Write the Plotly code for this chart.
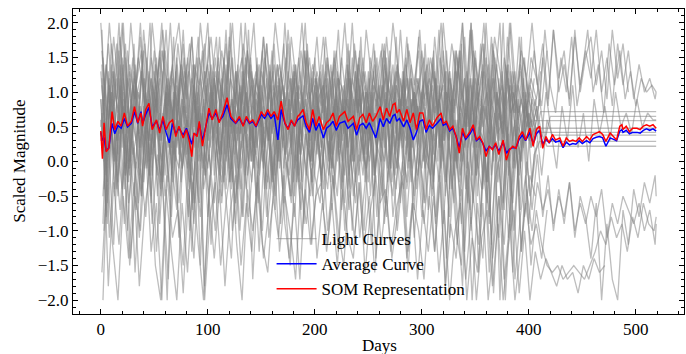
import plotly.graph_objects as go

# ---------------- data ----------------
# sampling days of the light curves (four interleaved sampling grids)
GRID_A = list(range(0, 516, 5)) + [519]
GRID_B = list(range(2, 518, 5)) + [519]
GRID_C = list(range(1, 517, 5)) + [519]
GRID_D = list(range(3, 519, 5)) + [519]

N = None
LC01 = [2.0,0.6,1.7,0.9,2.0, 0.7,1.5,0.4,1.9,1.0, 0.5,1.6,0.8,2.0,0.6, 1.4,0.9,1.8,0.5,1.3, 2.0,
        0.7,1.5,0.4,1.8,1.0, 0.6,2.0,0.9,1.3,0.5, 1.7,0.8,1.4,0.6,1.9, 1.0,0.5,1.6,0.9,1.2,
        0.6,1.8,1.0,0.5,1.5, 0.8,2.0,0.7,1.3,0.9, 1.7,0.5,1.4,1.0,0.6, 1.9,0.8,1.2,0.5,1.6,
        0.9,1.5,0.6,2.0,1.1, 0.7,1.6,0.5,1.9,1.0, 0.6,2.0,0.8,1.4,0.5, 1.8,1.0,0.7,1.5,0.9,
        1.6,0.8,1.9,1.1,0.7, 1.5,1.0,1.8,0.8,1.3, 1.9,1.0,1.4,0.7,1.7, 1.1,1.6,0.9,1.3,0.8, 1.2,1.0,1.1,1.0]
LC02 = [-2.0,0.3,-1.2,0.5,-0.9, 0.2,-1.6,-0.1,-0.8,0.4, -1.3,0.0,-2.0,0.3,-0.7, -1.5,0.1,-0.9,0.5,-1.8, -0.2,
        -1.0,0.3,-0.6,-1.4,0.2, -0.8,0.4,-1.7,-0.2,0.5, -1.1,-0.4,0.3,-0.9,-1.5, 0.1,-0.7,0.4,-1.2,-0.3,
        0.3,-1.0,-0.2,-1.3,0.4, -0.7,0.1,-1.1,-0.3,0.5, -1.4,-0.1,-0.8,0.3,-1.0, -0.2,-1.6,-0.4,0.2,-0.9,
        0.0,-1.3,-0.3,-1.8,0.1, -1.0,-1.5,-0.2,-2.0,-0.6, -1.4,0.0,-1.9,-0.5,-1.2, 0.1,-1.7,-0.8,-0.2,-1.5,
        -0.7,-1.2,-1.5,-1.6,-1.5, -1.7,-1.6,-1.5,-1.6,-1.7, -1.5,-1.3,-1.0,-1.2,-0.8, -1.1,-0.9,-1.3,-0.8,-1.1, -0.6,-0.9,-1.0,-0.8]
LC03 = [1.4,-0.2,1.1,0.1,0.9, -0.3,1.3,0.2,0.8,-0.1, 1.2,0.3,1.0,-0.2,1.5, 0.4,-0.1,1.1,0.2,0.9, 0.0,
        1.2,0.1,0.8,-0.3,1.3, 0.4,1.0,0.0,1.4,0.2, 0.7,-0.2,1.1,0.3,0.9, -0.1,1.3,0.5,0.0,1.0,
        0.2,1.1,-0.1,0.8,0.3, 1.4,0.0,0.9,0.4,1.2, -0.2,0.7,1.0,0.1,1.3, 0.3,0.8,-0.1,1.1,0.4,
        1.0,-0.2,0.9,0.3,1.3, 0.0,0.7,-0.4,1.1,0.2, 0.8,-0.3,1.2,0.4,0.6, -0.2,1.0,0.1,0.8,0.5,
        0.3,0.72,0.72,0.72,0.72, 0.72,0.72,0.72,0.72,0.72, 0.72,0.72,0.72,0.72,0.72, 0.72,0.72,0.72,0.72,0.72, 0.72,0.72,0.72,0.72]
LC04 = [-1.0,0.9,-0.4,1.2,-0.2, 0.8,-0.7,0.6,-0.1,1.0, -0.5,0.7,-0.3,0.9,-1.1, 0.5,-0.4,0.8,-1.5,0.6, -0.2,
        0.7,-0.5,0.9,-0.3,0.5, -0.8,0.8,-0.1,1.1,-0.4, 0.6,-0.7,0.9,0.0,-0.6, 1.0,-0.3,0.7,-0.5,0.4,
        -0.4,0.8,-0.2,1.0,-0.6, 0.5,-0.3,0.9,-0.1,0.6, -0.8,0.7,0.0,-0.5,0.9, -0.2,0.6,-0.7,0.8,-0.1,
        0.6,-0.8,0.4,-0.3,0.9, -1.2,0.3,-0.6,0.7,-1.6, 0.2,-0.9,0.5,-2.0,0.1, -1.0,0.4,-1.3,0.0,-0.7,
        0.1,-0.8,-0.2,-1.0,-0.4, -0.9,-0.3,-1.1,-0.5,-0.8, -1.4,-0.6,-2.0,-0.9,-1.7, -2.0,-0.7,-1.2,-0.4,-0.8, -0.3,-0.6,-0.2,-0.5]
LC05 = [0.3,1.4,0.5,1.2,0.2, 1.6,0.6,1.0,0.1,1.3, 0.7,1.5,0.4,1.1,0.0, 1.4,0.5,1.2,0.8,1.6, 0.3,
        1.3,0.5,1.5,0.2,1.0, 0.6,1.4,0.3,1.2,0.8, 1.7,0.4,1.1,0.2,1.3, 0.7,1.5,0.5,1.0,0.3,
        1.2,0.4,1.4,0.6,1.1, 0.2,1.5,0.7,1.0,0.3, 1.3,0.5,1.6,0.8,0.2, 1.2,0.6,1.4,0.4,1.0,
        0.5,1.3,0.7,1.6,0.3, 1.1,0.6,1.8,0.4,1.2, 0.8,1.5,0.2,1.0,0.6, 1.4,0.3,1.1,0.7,0.9,
        0.59,0.59,0.59,0.59,0.59, 0.59,0.59,0.59,0.59,0.59, 0.59,0.59,0.59,0.59,0.59, 0.59,0.59,0.59,0.59,0.59, 0.59,0.59,0.59,0.59]
LC06 = [0.5,-1.8,-0.3,-1.2,0.0, -1.5,-0.5,-1.0,0.2,-1.3, -0.6,-2.0,-0.2,-1.1,-0.7, -1.9,-0.4,-1.4,0.1,-2.0, -0.8,
        -0.3,-1.5,-0.6,0.0,-1.2, -2.0,-0.4,-1.0,-0.2,-1.4, -0.7,0.1,-1.3,-0.5,-1.0, -1.7,-0.3,-0.9,-0.1,-1.4,
        -0.6,-1.2,-0.2,-1.0,-1.5, -0.4,-1.1,-0.3,-1.6,-0.7, -0.2,-1.2,-0.5,-1.4,-0.8, 0.0,-1.3,-0.6,-1.0,-1.7,
        -0.5,-1.3,-0.2,-1.8,-0.9, -1.4,-0.4,-2.0,-1.1,-1.6, -0.6,-2.0,-1.2,-0.5,-1.7, -0.9,-2.0,-1.3,-0.6,-1.2,
        -0.9,-1.4,-0.7,N,N, N,N,N,N,N, N,N,N,N,N, N,N,N,N,N, N,N,N,N]
LC07 = [1.9,-0.3,0.8,-0.5,1.2, 0.0,1.7,-0.2,0.9,2.0, 0.1,-0.4,1.0,0.2,1.4, -0.1,0.6,-0.6,1.1,0.3, 1.8,
        -0.2,0.9,0.1,2.0,0.3, -0.4,1.0,0.0,1.5,0.2, -0.3,0.8,1.2,-0.1,0.9, -0.5,0.6,1.6,0.0,1.0,
        -0.3,0.7,1.3,0.0,0.9, -0.4,0.6,1.5,0.1,1.0, -0.2,0.8,1.2,-0.1,1.8, 0.3,-0.3,0.9,0.2,1.1,
        -0.1,1.6,0.2,1.0,-0.4, 1.3,0.0,0.8,2.0,-0.2, 0.9,-0.3,1.4,0.3,2.0, 0.0,1.1,-0.5,1.5,0.4,
        0.9,0.2,1.0,0.4,-0.1, 0.8,0.3,1.1,0.2,0.7, 0.0,0.9,0.4,0.8,0.3, 1.0,0.5,0.7,0.4,0.9, 0.5,0.7,0.6,0.6]
LC08 = [0.8,2.0,1.0,1.8,0.7, 2.0,1.1,1.6,0.6,2.0, 1.2,1.9,0.8,1.5,2.0, 1.0,1.7,0.7,2.0,1.2, 1.8,
        0.9,1.6,1.1,2.0,0.8, 1.7,1.2,2.0,0.7,1.5, 1.0,2.0,1.3,0.8,1.8, 1.1,2.0,0.9,1.4,1.0,
        1.8,0.8,1.5,1.1,2.0, 0.9,1.6,0.7,1.9,1.2, 0.8,1.7,1.0,2.0,1.3, 0.9,1.6,1.1,1.9,0.8,
        1.5,1.0,2.0,0.9,1.7, 1.2,2.0,0.8,1.6,1.1, 2.0,0.9,1.8,1.3,0.8, 2.0,1.0,1.6,1.2,2.0,
        1.1,1.7,0.9,1.9,1.2, 1.6,0.8,1.9,1.0,1.5, 1.8,1.1,1.6,0.9,1.9, 1.2,1.7,1.0,N,N, N,N,N,N]
LC09 = [0.9,-0.8,0.5,-0.4,0.7, -1.0,0.3,-0.6,0.8,-0.2, 0.6,-0.9,0.4,-0.5,1.0, -0.3,0.5,-1.3,0.2,0.7, -0.8,
        0.5,-0.6,0.8,-0.3,0.4, -1.0,0.3,0.9,-0.5,0.6, -0.8,0.2,0.7,-0.4,1.0, -0.3,0.5,-0.9,0.6,-0.2,
        -0.6,0.6,-0.3,0.9,-0.7, 0.4,-1.0,0.5,-0.2,0.8, -0.5,0.6,-0.9,0.3,0.7, -0.6,0.9,-0.3,0.4,-0.8,
        0.6,-0.4,0.8,-0.9,0.3, -0.6,0.7,-1.3,0.2,0.5, -0.8,0.6,-1.2,0.3,-0.7, 0.5,-1.6,-0.1,0.4,-0.9,
        0.1,0.29,0.29,0.29,0.29, 0.29,0.29,0.29,0.29,0.29, 0.29,0.29,0.29,0.29,0.29, 0.29,0.29,0.29,0.29,0.29, 0.29,0.29,0.29,0.29]
LC10 = [-0.9,1.3,0.0,1.6,0.3, -0.2,1.4,0.2,1.0,-0.5, 1.5,0.3,1.2,-0.1,0.9, 1.7,0.1,1.1,-0.6,1.3, 0.4,
        1.1,0.0,1.4,-0.4,1.2, 0.2,1.6,0.4,-0.1,1.3, 0.3,1.7,0.0,1.0,0.2, 1.4,0.5,-0.2,1.2,0.1,
        1.4,0.3,-0.1,1.2,0.4, 1.6,0.0,1.1,-0.3,1.3, 0.3,0.0,1.5,0.4,-0.1, 1.3,0.2,1.0,1.6,0.3,
        0.0,1.3,0.4,-0.3,1.2, 0.1,1.7,-0.1,1.0,-0.5, 0.9,1.4,0.0,1.2,-0.7, 0.8,1.3,-0.1,1.0,0.3,
        0.8,0.4,0.22,0.22,0.22, 0.22,0.22,0.22,0.22,0.22, 0.22,0.22,0.22,0.22,0.22, 0.22,0.22,0.22,0.22,0.22, 0.22,0.22,0.22,0.22]
LC11 = [-1.6,-0.2,-1.2,-2.0,-0.5, -1.4,-0.3,-1.8,-0.7,-0.1, -1.5,-2.0,-0.4,-1.3,-2.0, -0.6,-1.6,-0.3,-1.2,-2.0, -0.5,
        -1.4,-0.4,-1.8,-0.7,-0.2, -1.5,-0.6,-1.3,-0.3,-1.2, -1.6,-0.5,-1.1,-0.2,-1.4, -0.6,-1.7,-0.4,-1.2,-0.5,
        -0.3,-1.3,-0.6,-1.5,-0.4, -1.1,-1.4,-0.3,-1.2,-0.5, -1.6,-0.6,-0.4,-1.3,-0.7, -0.3,-1.4,-0.6,-1.7,-0.7,
        -1.3,-0.5,-1.6,-0.7,-2.0, -1.0,-0.6,-1.7,-0.8,-2.0, -1.1,-0.7,-1.8,-0.9,-2.0, -1.2,-0.7,-1.9,-1.0,-2.0,
        -1.3,-1.7,-1.4,-1.6,-1.8, -1.5,-1.7,-1.6,-1.9,-1.5, -1.7,-1.4,-1.6,-1.5,N, N,N,N,N,N, N,N,N,N]
LC12 = [0.0,1.2,-0.5,0.9,1.7, 0.0,1.1,-0.4,1.5,0.4, -0.2,1.3,0.2,1.8,0.1, 1.0,-0.3,1.4,0.3,-0.2, 1.1,
        1.8,0.1,1.1,-0.1,1.4, 0.3,1.9,0.0,1.0,0.2, 1.3,-0.2,0.9,1.5,0.1, 1.1,0.3,1.7,0.0,0.8,
        1.1,0.0,1.6,0.3,-0.2, 1.2,0.4,1.8,0.1,1.0, 0.2,1.5,-0.1,1.1,0.3, 1.3,0.0,1.0,0.2,1.7,
        0.3,1.2,-0.1,1.6,0.4, 0.0,2.0,0.2,1.1,-0.1, 1.7,0.1,1.0,2.0,0.0, 1.3,0.3,1.8,-0.2,0.9,
        0.6,1.5,0.8,1.9,1.0, 1.4,0.9,1.8,1.1,1.6, 1.2,1.9,1.0,1.5,0.8, 1.7,1.1,1.6,0.9,1.4, 1.0,1.2,0.9,1.0]
LC13 = [1.3,0.2,1.0,0.0,1.5, 0.4,1.1,-0.1,1.2,0.6, 1.6,0.3,0.9,0.1,1.3, 0.5,1.4,0.0,1.0,0.4, 1.2,
        0.3,1.3,0.6,1.5,0.1, 1.0,0.4,1.4,0.2,1.1, 0.5,1.6,0.0,0.9,0.6, 1.3,0.2,1.1,0.4,1.5,
        0.4,1.2,0.1,1.0,0.6, 1.4,0.3,0.9,0.0,1.3, 0.5,1.1,0.2,1.6,0.4, 0.9,0.1,1.2,0.6,1.0,
        1.4,0.3,1.1,0.0,1.0, 0.5,1.5,0.2,1.2,0.4, 1.7,0.1,0.9,0.5,1.3, 0.0,1.0,0.6,1.2,0.3,
        0.48,0.48,0.48,0.48,0.48, 0.48,0.48,0.48,0.48,0.48, 0.48,0.48,0.48,0.48,0.48, 0.48,0.48,0.48,0.48,0.48, 0.48,0.48,0.48,0.48]
LC14 = [-0.5,1.0,0.1,0.7,-0.4, 1.2,-0.1,0.8,0.3,-0.6, 0.9,0.0,1.1,-0.3,0.6, 0.2,-0.8,0.9,0.4,-0.2, 1.0,
        0.0,0.9,-0.4,0.7,0.2, 1.1,-0.2,0.5,-0.6,0.8, 0.3,1.0,-0.1,0.6,-0.5, 0.9,0.1,0.7,-0.3,1.2,
        0.1,-0.4,0.8,0.3,1.1, -0.2,0.6,0.0,1.0,-0.5, 0.7,0.2,0.9,-0.3,0.5, 1.1,-0.1,0.6,0.3,-0.6,
        0.8,0.0,1.0,-0.5,0.6, 0.2,-0.9,0.7,0.3,1.2, -0.4,0.5,0.1,-1.1,0.8, 0.0,0.6,-0.7,0.9,0.2,
        0.5,-0.2,0.6,0.38,0.38, 0.38,0.38,0.38,0.38,0.38, 0.38,0.38,0.38,0.38,0.38, 0.38,0.38,0.38,0.38,0.38, 0.38,0.38,0.38,0.38]
LC15 = [1.6,0.4,1.3,0.7,2.0, 0.5,1.2,0.9,1.7,0.3, 1.4,0.8,1.9,0.6,1.1, 0.2,1.5,0.9,1.8,0.4, 1.3,
        0.6,1.8,0.5,1.2,0.9, 2.0,0.4,1.3,0.7,1.6, 0.3,1.1,0.8,1.7,0.5, 1.3,0.9,2.0,0.6,1.2,
        0.8,1.5,0.3,1.2,0.7, 1.7,0.5,1.4,0.9,0.4, 1.6,0.6,1.3,0.2,1.1, 0.8,1.8,0.5,1.2,0.7,
        1.5,0.6,1.9,0.3,1.2, 0.8,1.6,0.4,2.0,0.7, 1.3,0.5,1.7,0.9,0.3, 1.4,0.7,1.8,0.5,1.1,
        0.8,1.3,N,N,N, N,N,N,N,N, N,N,N,N,N, N,N,N,N,N, N,N,N,N]
LC16 = [0.6,-1.1,0.2,-0.7,0.4, -1.4,0.0,-0.5,0.7,-0.9, 0.1,-0.4,-1.7,0.3,-0.6, 0.5,-1.0,0.0,-0.8,0.4, -1.2,
        0.2,-0.6,0.5,-1.0,-0.2, 0.4,-0.8,0.1,-1.3,0.3, -0.4,0.6,-0.9,0.0,-0.5, 0.4,-1.1,0.2,-0.3,0.5,
        -0.7,0.3,-0.4,0.5,-1.0, 0.1,-0.6,0.4,-0.2,-1.2, 0.2,-0.5,0.6,-0.8,0.0, -0.4,0.5,-1.1,0.1,-0.6,
        0.3,-0.9,0.1,-1.4,0.4, -0.7,-1.8,0.0,-0.5,-1.2, 0.2,-1.6,-0.3,0.1,-2.0, -0.6,0.3,-1.3,-0.4,-1.0,
        -0.3,-0.7,-0.4,-0.9,-0.5, -0.8,-0.3,-1.0,-0.6,-0.9, -0.5,-0.8,-0.4,-1.1,-0.6, -0.9,-0.5,-0.7,-0.9,-0.6, -1.0,-0.7,-1.2,-0.9]
LC17 = [0.9,-0.1,1.4,0.3,0.8, -0.3,1.1,0.5,1.6,0.0, 0.7,1.2,-0.2,0.9,0.4, 1.3,0.1,0.7,1.5,-0.1, 0.6,
        1.0,0.2,1.3,-0.1,0.8, 0.4,1.5,0.0,0.9,0.5, 1.2,-0.3,0.7,1.1,0.2, 1.4,-0.2,0.8,0.3,1.1,
        0.5,1.3,-0.1,0.9,0.4, 1.2,0.0,1.4,0.3,0.8, -0.2,1.0,0.5,1.3,0.1, 0.7,1.5,0.2,0.9,-0.1,
        0.7,1.1,0.0,1.4,0.3, 0.9,-0.3,1.2,0.5,1.6, 0.1,0.8,-0.2,1.0,0.4, 1.3,-0.1,0.9,0.2,0.7,
        0.4,0.9,0.3,0.65,0.65, 0.65,0.65,0.65,0.65,0.65, 0.65,0.65,0.65,0.65,0.65, 0.65,0.65,0.65,0.65,0.65, 0.65,0.65,0.65,0.65]
LC18 = [0.4,1.7,0.8,2.0,0.5, 1.3,0.9,1.8,0.3,1.5, 1.0,2.0,0.6,1.2,0.8, 1.9,0.5,1.4,1.1,1.7, 0.6,
        1.5,0.7,1.9,0.4,1.3, 0.8,1.6,1.0,0.5,1.8, 0.9,1.4,0.6,2.0,0.8, 1.2,0.4,1.5,1.0,1.8,
        0.7,1.4,0.9,1.9,0.5, 1.2,0.8,1.6,0.4,1.5, 1.0,0.6,1.8,0.9,1.3, 0.5,1.7,0.8,1.1,1.5,
        0.6,1.8,0.9,1.3,0.4, 1.6,1.0,0.7,1.9,0.8, 1.4,0.5,1.6,1.1,0.7, 2.0,0.9,1.3,0.6,1.5,
        1.2,0.8,1.6,N,N, N,N,N,N,N, N,N,N,N,N, N,N,N,N,N, N,N,N,N]
LC19 = [1.2,-0.6,0.7,-0.2,1.0, 0.4,-0.5,0.8,-0.1,0.5, 1.1,-0.3,0.6,0.0,-0.7, 0.9,0.2,-0.4,0.7,0.1, -0.5,
        0.6,-0.2,0.9,0.1,-0.6, 0.7,0.3,-0.3,1.0,0.0, 0.5,-0.5,0.8,0.2,-0.2, 0.9,-0.4,0.4,0.0,0.7,
        -0.3,0.6,0.1,-0.5,0.8, 0.2,0.9,-0.2,0.5,0.0, 0.7,-0.6,0.4,0.9,-0.1, 0.6,-0.4,0.3,0.8,0.0,
        0.5,-0.3,0.9,0.1,-0.8, 0.6,-0.2,0.4,-1.0,0.7, 0.0,-0.6,0.8,-0.3,0.3, -1.1,0.5,-0.2,0.6,-0.5,
        0.2,N,N,N,N, N,N,N,N,N, N,N,N,N,N, N,N,N,N,N, N,N,N,N]
LC20 = [0.2,1.1,0.5,1.4,-0.1, 0.9,0.3,1.3,0.6,-0.2, 1.0,0.4,1.2,0.1,0.8, 1.5,0.3,0.9,0.0,1.1, 0.7,
        0.2,1.2,0.5,0.9,-0.1, 1.3,0.6,0.2,1.0,0.4, 1.4,0.1,0.8,0.5,1.2, 0.0,0.9,0.6,1.3,0.3,
        0.9,0.1,1.2,0.5,0.8, 0.0,1.3,0.4,1.0,0.6, 0.2,1.1,0.5,1.4,0.3, 0.8,0.0,1.0,0.6,1.2,
        0.4,1.0,0.1,1.3,0.6, -0.1,0.9,0.5,1.2,0.2, 0.8,0.4,1.5,0.0,0.7, 1.1,0.3,0.9,0.5,0.6,
        0.42,0.42,0.42,0.42,0.42, 0.42,0.42,0.42,0.42,0.42, 0.42,0.42,0.42,0.42,0.42, 0.42,0.42,0.42,0.42,0.42, 0.42,0.42,0.42,0.42]
LC21 = [1.1,0.0,0.9,0.3,1.4, -0.1,0.8,0.4,1.2,0.1, 1.0,-0.2,0.7,1.3,0.2, 0.9,0.5,1.4,0.0,0.8, 0.3,
        1.2,0.1,0.9,0.5,1.3, -0.1,0.7,1.1,0.2,1.0, 0.4,1.3,0.0,0.8,0.5, 1.2,0.1,0.9,0.3,1.1,
        0.2,1.0,0.5,1.3,0.0, 0.9,0.4,1.2,0.1,0.8, 1.4,0.3,0.9,-0.1,1.1, 0.5,1.2,0.2,0.8,0.4,
        1.1,0.1,0.9,0.4,1.3, 0.0,0.8,0.5,1.2,-0.2, 0.7,1.0,0.2,0.9,0.4, 1.2,0.0,0.8,0.3,1.0,
        0.5,N,N,N,N, N,N,N,N,N, N,N,N,N,N, N,N,N,N,N, N,N,N,N]
LC22 = [-0.4,0.8,0.0,1.1,-0.2, 0.7,0.3,-0.5,0.9,0.1, 0.6,-0.3,1.0,0.2,-0.1, 0.8,0.4,-0.6,0.7,0.0, 1.1,
        0.2,-0.3,0.9,0.4,-0.4, 0.8,0.0,1.1,-0.2,0.6, 0.3,-0.5,0.9,0.1,0.7, -0.3,1.0,0.2,-0.1,0.8,
        0.4,-0.2,0.9,0.1,0.6, -0.4,1.0,0.3,-0.1,0.8, 0.2,1.1,-0.3,0.5,0.0, 0.9,0.3,-0.5,0.7,0.1,
        -0.2,0.8,0.2,1.0,-0.4, 0.6,0.0,0.9,-0.6,0.5, 0.3,-0.8,0.7,0.1,1.0, -0.5,0.4,0.0,0.8,-0.3,
        0.3,N,N,N,N, N,N,N,N,N, N,N,N,N,N, N,N,N,N,N, N,N,N,N]
LC23 = [0.5,1.4,0.8,1.7,0.4, 1.2,0.7,1.5,1.0,0.3, 1.3,0.6,1.6,0.9,0.4, 1.2,0.7,1.8,0.5,1.0, 1.4,
        0.6,1.2,0.9,1.6,0.3, 1.1,0.7,1.5,0.5,1.3, 0.9,0.4,1.4,0.7,1.7, 0.5,1.1,0.8,1.5,0.6,
        1.3,0.5,1.0,1.6,0.7, 0.3,1.2,0.8,1.5,0.4, 1.1,0.9,1.7,0.6,1.0, 0.4,1.4,0.7,1.2,0.9,
        0.5,1.4,0.8,1.1,0.3, 1.6,0.7,1.2,0.4,1.5, 0.9,0.6,1.8,0.8,1.1, 0.3,1.3,0.7,1.0,0.5,
        1.2,N,N,N,N, N,N,N,N,N, N,N,N,N,N, N,N,N,N,N, N,N,N,N]
LC24 = [0.9,0.1,1.3,0.4,0.7, -0.1,1.1,0.6,0.2,1.2, 0.5,0.0,0.9,1.4,0.3, 0.8,0.1,1.0,0.5,1.3, 0.2,
        0.7,1.1,0.0,0.9,0.4, 1.3,0.2,0.8,0.6,-0.1, 1.0,0.5,1.2,0.1,0.7, 1.4,0.3,0.9,0.0,0.8,
        0.6,1.2,0.1,0.8,0.4, 1.3,0.0,0.7,1.1,0.3, 0.9,-0.1,1.0,0.5,1.4, 0.2,0.8,0.4,1.2,0.0,
        0.9,0.3,1.1,0.6,0.0, 1.3,0.4,0.8,-0.2,1.0, 0.5,1.2,0.1,0.7,0.3, 1.1,-0.1,0.6,0.9,0.2,
        0.6,N,N,N,N, N,N,N,N,N, N,N,N,N,N, N,N,N,N,N, N,N,N,N]
LC25 = [0.7,-0.9,0.4,-0.3,0.8, -0.6,0.2,-1.1,0.5,-0.2, 0.9,-0.5,0.3,-0.8,0.6, -0.1,0.4,-0.7,0.8,-0.4, 0.1,
        -0.6,0.5,-0.2,0.8,-0.9, 0.3,-0.4,0.6,-0.1,-1.0, 0.4,-0.3,0.7,-0.6,0.2, -0.8,0.5,0.0,-0.5,0.6,
        -0.2,0.7,-0.7,0.3,-0.3, 0.8,-0.5,0.1,-1.0,0.5, -0.1,0.6,-0.6,0.2,-0.4, 0.7,-0.8,0.3,-0.2,0.5,
        -0.7,0.4,-0.3,0.6,-1.1, 0.2,-0.5,0.7,-0.9,0.1, -0.4,0.5,-1.4,0.0,-0.6, 0.4,-1.0,0.2,-0.8,-0.2,
        -0.5,N,N,N,N, N,N,N,N,N, N,N,N,N,N, N,N,N,N,N, N,N,N,N]
LC26 = [1.2,0.3,1.0,0.6,1.5, 0.2,0.9,1.3,0.4,1.1, 0.7,1.6,0.3,1.0,0.5, 1.3,0.8,0.2,1.2,0.6, 1.4,
        0.4,1.0,0.7,1.5,0.3, 1.2,0.6,0.9,1.4,0.2, 1.1,0.5,1.3,0.8,0.3, 1.0,0.7,1.6,0.4,0.9,
        1.1,0.5,1.4,0.2,0.9, 0.7,1.3,0.4,1.0,0.6, 1.5,0.3,1.1,0.8,0.2, 1.2,0.6,1.0,0.4,1.3,
        0.6,1.2,0.3,1.0,0.8, 1.5,0.4,1.1,0.2,0.9, 1.3,0.6,1.0,0.3,1.4, 0.7,0.9,0.2,1.2,0.5,
        0.8,N,N,N,N, N,N,N,N,N, N,N,N,N,N, N,N,N,N,N, N,N,N,N]
LC27 = [0.6,-0.2,1.0,0.3,-0.4, 0.8,0.1,0.5,-0.3,0.9, 0.2,0.7,-0.5,0.4,1.0, 0.0,0.6,-0.2,0.8,0.3, -0.1,
        0.9,0.2,-0.3,0.7,0.4, 1.0,-0.2,0.5,0.1,0.8, -0.4,0.6,0.3,1.1,0.0, 0.5,-0.3,0.8,0.2,0.6,
        -0.1,0.8,0.3,0.5,-0.4, 0.9,0.1,0.6,0.2,-0.3, 1.0,0.4,0.0,0.7,-0.2, 0.6,0.3,0.9,-0.4,0.5,
        0.2,-0.5,0.7,0.3,0.9, -0.2,0.5,0.1,-0.7,0.8, 0.4,-0.3,0.6,0.0,1.0, 0.2,-0.6,0.5,0.3,0.7,
        0.2,N,N,N,N, N,N,N,N,N, N,N,N,N,N, N,N,N,N,N, N,N,N,N]
LC28 = [1.5,0.6,1.8,1.0,0.7, 1.4,0.9,2.0,0.5,1.2, 0.8,1.6,1.1,0.6,1.7, 0.9,1.3,0.5,1.5,1.0, 0.7,
        1.3,0.8,1.7,0.5,1.1, 1.5,0.7,1.2,0.9,1.8, 0.6,1.0,1.4,0.8,1.2, 0.5,1.6,1.0,0.7,1.3,
        0.9,1.5,0.6,1.2,1.0, 0.5,1.7,0.8,1.3,0.6, 1.1,1.6,0.7,1.0,1.4, 0.8,1.2,0.5,1.8,0.9,
        1.2,0.7,1.5,1.0,0.6, 1.6,0.9,1.3,0.5,1.1, 1.7,0.8,1.2,0.6,1.5, 1.0,0.7,1.4,0.9,1.2,
        0.9,N,N,N,N, N,N,N,N,N, N,N,N,N,N, N,N,N,N,N, N,N,N,N]

LIGHT_CURVES = [
    (GRID_A, LC01), (GRID_B, LC02), (GRID_C, LC03), (GRID_D, LC04), (GRID_A, LC05),
    (GRID_B, LC06), (GRID_C, LC07), (GRID_D, LC08), (GRID_A, LC09), (GRID_B, LC10),
    (GRID_C, LC11), (GRID_D, LC12), (GRID_A, LC13), (GRID_B, LC14), (GRID_C, LC15),
    (GRID_D, LC16), (GRID_A, LC17), (GRID_B, LC18), (GRID_C, LC19), (GRID_D, LC20),
    (GRID_C, LC21), (GRID_D, LC22), (GRID_A, LC23), (GRID_B, LC24), (GRID_C, LC25),
    (GRID_D, LC26), (GRID_A, LC27), (GRID_B, LC28),
]

SOM_DAYS = [0, 1.5, 3, 5, 7.5, 10.5, 13, 16, 19, 22, 25, 28.5, 31.5, 34.5, 37.5, 39, 42, 45, 48, 52,
            55, 58, 61, 64, 67, 70, 73, 77, 80, 83, 85, 87, 90, 92, 95, 98, 101, 104, 107.5, 110.5,
            114, 118, 121.5, 126, 129.5, 133, 136, 139, 142, 145, 150, 153, 156, 159, 162, 165.5, 168.5, 172, 175, 178,
            181, 184, 186, 189, 192, 195, 198, 201, 204, 208, 211, 214, 217, 220, 223, 228, 231, 236, 239, 242,
            245, 248, 251, 254, 257, 261, 264, 267, 270, 273, 275, 276.5, 279, 283, 286, 289, 292, 295, 298, 301,
            304, 307, 310, 314, 318, 320, 323, 326, 329, 332, 335, 338, 341, 345, 348, 351, 354, 357, 360, 363,
            366, 369, 372, 376, 379, 382, 385, 388, 391, 394, 397, 401, 404, 407, 410, 413, 416, 419, 422, 425,
            429, 432, 435, 438, 441, 444, 447, 450, 454, 457, 460, 463, 466, 469, 472, 476, 479, 482, 485, 487,
            488, 491, 494, 497, 501, 504, 507, 510, 513, 516, 519]
SOM_VALUES = [0.44, 0.04, 0.56, 0.14, 0.19, 0.72, 0.46, 0.58, 0.51, 0.70, 0.51, 0.58, 0.79, 0.56, 0.70, 0.51, 0.75, 0.84, 0.46, 0.60,
              0.41, 0.65, 0.46, 0.56, 0.60, 0.36, 0.51, 0.34, 0.46, 0.27, 0.07, 0.41, 0.36, 0.58, 0.22, 0.51, 0.77, 0.60, 0.75, 0.56,
              0.70, 0.92, 0.65, 0.56, 0.65, 0.51, 0.65, 0.56, 0.60, 0.51, 0.72, 0.65, 0.75, 0.65, 0.72, 0.60, 0.87, 0.56, 0.46, 0.60,
              0.51, 0.65, 0.68, 0.75, 0.56, 0.46, 0.75, 0.51, 0.65, 0.46, 0.56, 0.60, 0.70, 0.51, 0.65, 0.72, 0.58, 0.65, 0.46, 0.63,
              0.68, 0.56, 0.70, 0.58, 0.65, 0.79, 0.60, 0.77, 0.65, 0.82, 0.84, 0.70, 0.75, 0.58, 0.75, 0.56, 0.70, 0.46, 0.70, 0.70,
              0.46, 0.60, 0.51, 0.63, 0.70, 0.55, 0.58, 0.46, 0.51, 0.36, 0.12, 0.48, 0.34, 0.43, 0.53, 0.31, 0.36, 0.27, 0.07, 0.22,
              0.17, 0.27, 0.10, 0.31, 0.02, 0.17, 0.22, 0.19, 0.36, 0.43, 0.31, 0.48, 0.22, 0.46, 0.51, 0.19, 0.36, 0.27, 0.39, 0.31,
              0.34, 0.22, 0.34, 0.29, 0.31, 0.29, 0.34, 0.29, 0.36, 0.31, 0.39, 0.41, 0.43, 0.39, 0.29, 0.41, 0.36, 0.31, 0.51, 0.53,
              0.46, 0.51, 0.43, 0.48, 0.48, 0.46, 0.51, 0.53, 0.51, 0.53, 0.48]
AVG_VALUES = [0.42, 0.30, 0.35, 0.15, 0.20, 0.55, 0.40, 0.52, 0.48, 0.62, 0.50, 0.55, 0.72, 0.55, 0.72, 0.55, 0.68, 0.78, 0.50, 0.58,
              0.45, 0.60, 0.42, 0.27, 0.55, 0.40, 0.48, 0.38, 0.48, 0.33, 0.25, 0.40, 0.38, 0.55, 0.30, 0.50, 0.70, 0.62, 0.70, 0.58,
              0.65, 0.82, 0.62, 0.55, 0.62, 0.52, 0.62, 0.55, 0.58, 0.50, 0.68, 0.62, 0.70, 0.62, 0.68, 0.31, 0.75, 0.55, 0.48, 0.58,
              0.52, 0.60, 0.62, 0.66, 0.50, 0.42, 0.62, 0.45, 0.55, 0.34, 0.48, 0.52, 0.58, 0.45, 0.55, 0.58, 0.48, 0.55, 0.38, 0.52,
              0.55, 0.48, 0.56, 0.45, 0.34, 0.62, 0.50, 0.62, 0.55, 0.66, 0.68, 0.58, 0.62, 0.50, 0.60, 0.48, 0.31, 0.42, 0.58, 0.60,
              0.42, 0.52, 0.48, 0.55, 0.62, 0.52, 0.55, 0.44, 0.48, 0.36, 0.20, 0.42, 0.32, 0.40, 0.48, 0.30, 0.34, 0.26, 0.15, 0.22,
              0.18, 0.24, 0.15, 0.28, 0.12, 0.18, 0.20, 0.20, 0.32, 0.38, 0.30, 0.42, 0.25, 0.40, 0.45, 0.25, 0.32, 0.27, 0.33, 0.28,
              0.30, 0.20, 0.28, 0.24, 0.26, 0.25, 0.30, 0.26, 0.30, 0.27, 0.33, 0.35, 0.36, 0.34, 0.22, 0.34, 0.32, 0.30, 0.44, 0.46,
              0.42, 0.45, 0.40, 0.42, 0.42, 0.41, 0.45, 0.47, 0.45, 0.47, 0.44]

X_TICKS = [0, 100, 200, 300, 400, 500]
Y_TICKS = [-2.0, -1.5, -1.0, -0.5, 0.0, 0.5, 1.0, 1.5, 2.0]

# ---------------- figure ----------------
FONT = "Liberation Serif, DejaVu Serif, serif"
GRAY = "rgba(128,128,128,0.52)"

fig = go.Figure()
for i, (grid, vals) in enumerate(LIGHT_CURVES):
    n = min(len(grid), len(vals))
    fig.add_trace(go.Scatter(x=grid[:n], y=vals[:n], mode="lines",
                             line=dict(color=GRAY, width=1.3),
                             name="Light Curves", legendgroup="lc",
                             showlegend=(i == 0), hoverinfo="skip", connectgaps=False))

n = min(len(SOM_DAYS), len(AVG_VALUES), len(SOM_VALUES))
fig.add_trace(go.Scatter(x=SOM_DAYS[:n], y=AVG_VALUES[:n], mode="lines",
                         line=dict(color="#0000ff", width=1.5), name="Average Curve"))
fig.add_trace(go.Scatter(x=SOM_DAYS[:n], y=SOM_VALUES[:n], mode="lines",
                         line=dict(color="#ff0000", width=1.5), name="SOM Representation"))

axis_common = dict(showline=True, linecolor="black", linewidth=1, mirror="ticks",
                   ticks="inside", ticklen=5, tickwidth=1, tickcolor="black",
                   showgrid=False, zeroline=False, automargin=False,
                   tickfont=dict(family=FONT, size=17, color="black"))

fig.update_xaxes(range=[-26, 545], tickvals=X_TICKS,
                 minor=dict(ticks="inside", ticklen=3, tickcolor="black", dtick=20, tick0=0, showgrid=False),
                 **axis_common)
fig.update_yaxes(range=[-2.2, 2.2], tickvals=Y_TICKS, tickformat=".1f",
                 minor=dict(ticks="inside", ticklen=3, tickcolor="black", dtick=0.1, tick0=0, showgrid=False),
                 **axis_common)

fig.update_layout(
    width=686, height=354,
    margin=dict(l=73, r=2, t=9, b=40),
    plot_bgcolor="white", paper_bgcolor="white",
    font=dict(family=FONT, size=17, color="black"),
    legend=dict(x=0.325, y=0.023, xanchor="left", yanchor="bottom",
                bgcolor="rgba(0,0,0,0)", borderwidth=0,
                font=dict(family=FONT, size=17, color="black"),
                itemwidth=40, tracegroupgap=0),
    showlegend=True,
    annotations=[
        dict(text="Days", xref="paper", yref="paper", x=0.502, y=-0.102,
             xanchor="center", yanchor="middle", showarrow=False,
             font=dict(family=FONT, size=17, color="black")),
        dict(text="Scaled Magnitude", xref="paper", yref="paper", x=-0.088, y=0.5,
             xanchor="center", yanchor="middle", textangle=-90, showarrow=False,
             font=dict(family=FONT, size=17, color="black")),
    ],
)

fig.write_html("out.html", config={"displayModeBar": False},
               post_script="document.body.style.margin='0';document.body.style.overflow='hidden';")
